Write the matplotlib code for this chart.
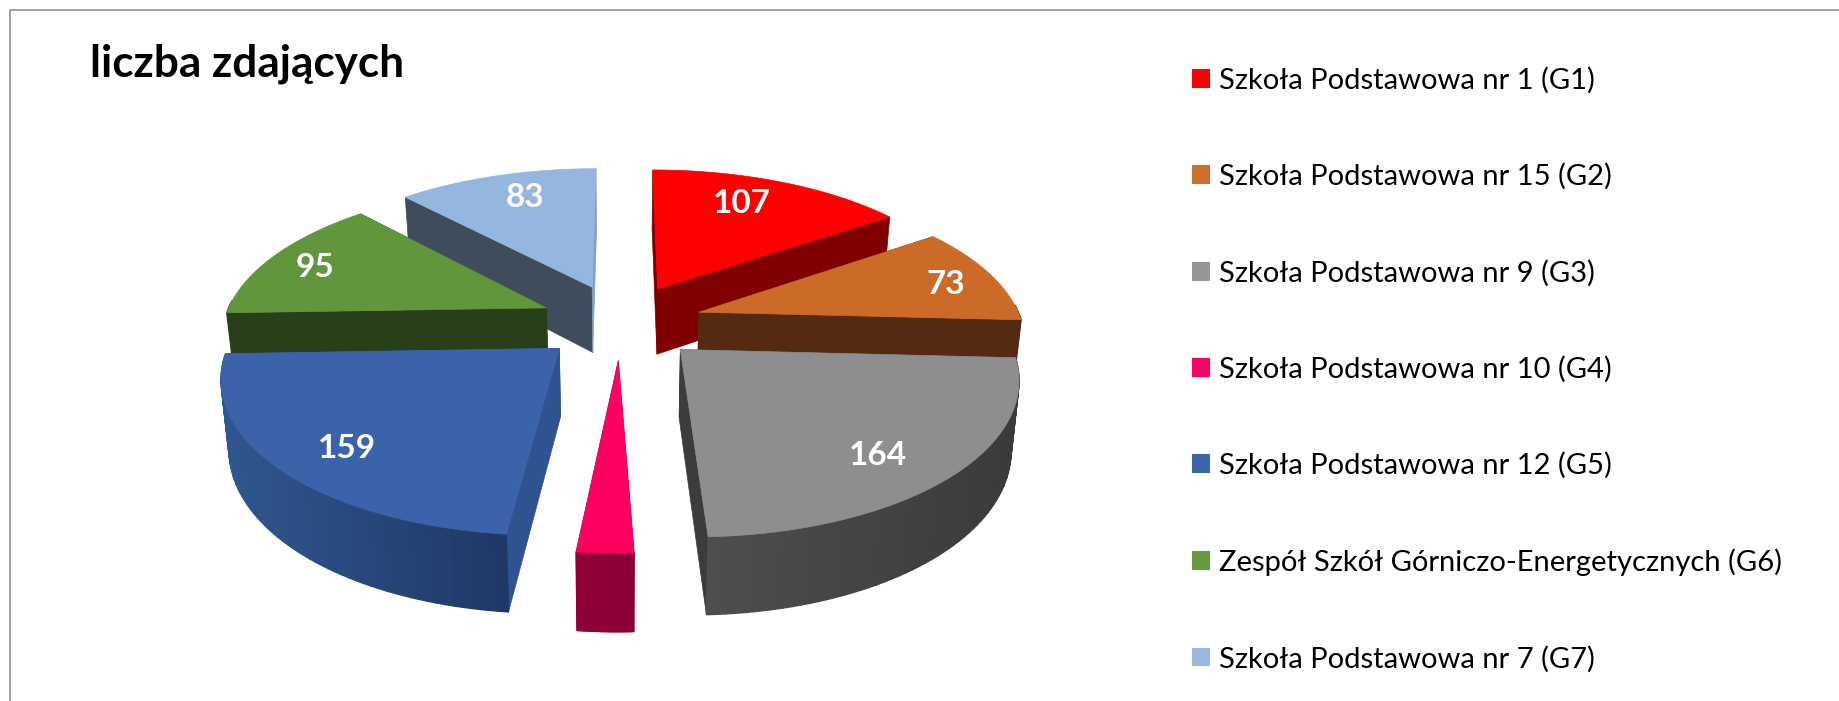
import numpy as np
import matplotlib
matplotlib.use("Agg")
import matplotlib.pyplot as plt
from matplotlib.patches import Polygon, Patch
from matplotlib.colors import to_rgb

# ---- data ----
schools = ["Szkoła Podstawowa nr 1 (G1)", "Szkoła Podstawowa nr 15 (G2)",
           "Szkoła Podstawowa nr 9 (G3)", "Szkoła Podstawowa nr 10 (G4)",
           "Szkoła Podstawowa nr 12 (G5)", "Zespół Szkół Górniczo-Energetycznych (G6)",
           "Szkoła Podstawowa nr 7 (G7)"]
values = [107, 73, 164, 16, 159, 95, 83]
shown_labels = ["107", "73", "164", None, "159", "95", "83"]
title_text = "liczba zdających"

# ---- style ----
top_colors = ["#FF0000", "#CC6B28", "#8E8E8E", "#FF0062", "#3A63A9", "#61963C", "#95B6DE"]
legend_colors = ["#FF0000", "#CF6E2D", "#969696", "#FF0066", "#3E64AC", "#659B3F", "#99B8E0"]
end_face = ["#800000", "#542B10", "#3C3C3C", "#8E0038", "#2F5290", "#28401A", "#7F9FC8"]
start_face = ["#7A0000", "#542B10", "#3F3F3F", "#8E0038", "#2F5290", "#28401A", "#3E4C5C"]
arc_left = ["#800000", "#542B10", "#4E4E4E", "#900039", "#30568F", "#28401A", "#3E4C5C"]
arc_right = ["#800000", "#542B10", "#3A3A3A", "#8A0036", "#1F3866", "#28401A", "#3E4C5C"]
label_nudge = [(-11, -3), (26, 1), (0, 14), (0, 0), (-8, 13), (-24, -1), (7, -4)]

CX, CY = 621.0, 323.0      # projection centre, px
RX, RY = 323.0, 148.0      # pie radius in px
PERSP = 0.16               # perspective strength
EXPLODE_X = 0.254          # explosion as a share of the radius
EXPLODE_BACK = 0.27
EXPLODE_FRONT = 0.245
SHRINK = 0.98              # lower plane is a bit smaller
LABEL_R = 0.75

W, H = 1840, 701
fig = plt.figure(figsize=(W / 100, H / 100), dpi=100, facecolor="white")
ax = fig.add_axes([0, 0, 1, 1])
ax.set_xlim(0, W)
ax.set_ylim(H, 0)
ax.axis("off")


def project(u, v, lower=False):
    s = 1 / (1 + PERSP * v)
    x = RX * u * s
    y = RY * v * s
    if lower:
        return CX + x * SHRINK, CY - y + 20 + 47 * s
    return CX + x, CY - y


total = sum(values)
edges = np.cumsum([0] + values) / total * 2 * np.pi
# back wedges first, so the nearer ones cover them
order = [6, 0, 1, 5, 2, 4, 3]

for i in order:
    t0, t1 = edges[i], edges[i + 1]
    mid = (t0 + t1) / 2
    ey = EXPLODE_BACK if np.cos(mid) > 0 else EXPLODE_FRONT
    ou, ov = EXPLODE_X * np.sin(mid), ey * np.cos(mid)
    th = np.linspace(t0, t1, 60)
    u = ou + np.sin(th)
    v = ov + np.cos(th)
    tx, ty = project(u, v)
    bx, by = project(u, v, lower=True)
    ax0, ay0 = project(ou, ov)
    bx0, by0 = project(ou, ov, lower=True)

    # radial faces
    ax.add_patch(Polygon([(ax0, ay0), (tx[0], ty[0]), (bx[0], by[0]), (bx0, by0)],
                         closed=True, fc=start_face[i], ec=start_face[i], lw=0.5))
    ax.add_patch(Polygon([(ax0, ay0), (tx[-1], ty[-1]), (bx[-1], by[-1]), (bx0, by0)],
                         closed=True, fc=end_face[i], ec=end_face[i], lw=0.5))
    # outer face, only the part that looks toward the viewer,
    # shaded in strips from left to right on screen
    cl, cr = np.array(to_rgb(arc_left[i])), np.array(to_rgb(arc_right[i]))
    xmin, xmax = bx.min(), bx.max()
    for j in range(len(th) - 1):
        if np.cos((th[j] + th[j + 1]) / 2) > 0.05:
            continue
        f = ((bx[j] + bx[j + 1]) / 2 - xmin) / max(xmax - xmin, 1)
        c = cl + (cr - cl) * f
        ax.add_patch(Polygon([(tx[j], ty[j]), (tx[j + 1], ty[j + 1]),
                              (bx[j + 1], by[j + 1]), (bx[j], by[j])],
                             closed=True, fc=c, ec=c, lw=1.0, joinstyle="round"))
    # top face
    ax.add_patch(Polygon(np.column_stack([np.r_[ax0, tx], np.r_[ay0, ty]]),
                         closed=True, fc=top_colors[i], ec=top_colors[i], lw=0.5))
    if shown_labels[i]:
        lx, ly = project(ou + LABEL_R * np.sin(mid), ov + LABEL_R * np.cos(mid))
        ax.text(lx + label_nudge[i][0], ly + label_nudge[i][1], shown_labels[i],
                color="white", fontsize=24, fontweight="bold", family="Lato",
                ha="center", va="center", zorder=10)

# frame: only the top and the left edge are in view
ax.plot([10, 10, W], [H, 9.5, 9.5], color="#9A9A9A", lw=1.3, zorder=0)

ax.text(90, 64, title_text, fontsize=31.8, fontweight="bold", family="Lato",
        color="black", ha="left", va="center")

FS = 21.0
px = FS * 100 / 72
handles = [Patch(fc=c, ec="none") for c in legend_colors]
ax.legend(handles, schools, loc="upper left", bbox_to_anchor=(1192 / W, 1 - 67 / H),
          bbox_transform=fig.transFigure, frameon=False, borderpad=0, borderaxespad=0,
          prop={"family": "Lato", "size": FS}, handlelength=18 / px, handleheight=18 / px,
          handletextpad=9 / px, labelspacing=(97 - 27.6) / px, labelcolor="black")

fig.savefig("out.png", dpi=100, facecolor="white")
